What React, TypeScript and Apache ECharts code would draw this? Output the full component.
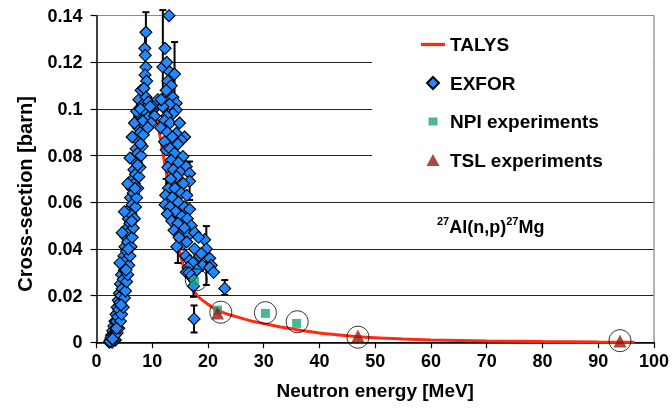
import React, { useEffect, useRef } from "react";
import * as echarts from "echarts";

const FONT = "'Liberation Sans', Arial, Helvetica, sans-serif";

// TALYS calculation [MeV, barn]
const talys: [number, number][] = [
  [10.8, 0.097], [11.0, 0.094], [12.0, 0.080], [13.0, 0.066], [14.0, 0.051],
  [15.2, 0.036], [16.0, 0.030], [17.0, 0.025], [17.6, 0.0215], [18.5, 0.019],
  [19.5, 0.0172], [20.5, 0.0155], [21.7, 0.0138], [23.0, 0.0125], [25.0, 0.011],
  [27.5, 0.0093], [30.0, 0.008], [33.0, 0.0066], [36.0, 0.0054], [40.0, 0.004],
  [45.0, 0.0028], [50.0, 0.0019], [55.0, 0.0014], [60.0, 0.001], [70.0, 0.0006],
  [80.0, 0.0003], [90.0, 0.0001], [96.5, 0.0],
];

// EXFOR data, rising edge
const exforRiseLeft: [number, number][] = [
  [2.3, 0.000], [2.5, 0.001], [2.7, 0.003], [2.9, 0.005], [3.1, 0.007], [3.3, 0.009],
  [3.5, 0.012], [3.7, 0.015], [3.9, 0.018], [4.1, 0.021], [4.3, 0.025], [4.5, 0.029],
  [4.7, 0.033], [4.9, 0.037], [5.1, 0.041], [5.3, 0.045], [5.5, 0.049], [5.7, 0.053],
  [5.9, 0.057], [6.1, 0.062], [6.3, 0.066], [6.5, 0.070], [6.7, 0.074], [6.9, 0.078],
  [7.1, 0.083], [7.3, 0.088], [7.5, 0.092], [7.7, 0.097],
];
const exforRiseMid: [number, number][] = [
  [2.8, 0.000], [3.0, 0.002], [3.2, 0.004], [3.4, 0.006], [3.6, 0.009], [3.8, 0.011],
  [4.0, 0.014], [4.2, 0.017], [4.4, 0.020], [4.6, 0.023], [4.8, 0.027], [5.0, 0.031],
  [5.2, 0.035], [5.4, 0.039], [5.6, 0.043], [5.8, 0.047], [6.0, 0.051], [6.2, 0.055],
  [6.4, 0.059], [6.6, 0.064], [6.8, 0.068], [7.0, 0.072], [7.2, 0.077], [7.4, 0.081],
  [7.6, 0.086], [7.9, 0.090], [8.1, 0.095], [8.3, 0.099],
];
const exforRiseRight: [number, number][] = [
  [3.4, 0.001], [3.7, 0.004], [4.0, 0.006], [4.3, 0.009], [4.5, 0.012], [4.8, 0.015],
  [5.0, 0.019], [5.2, 0.022], [5.4, 0.026], [5.6, 0.029], [5.8, 0.033], [6.0, 0.037],
  [6.2, 0.041], [6.4, 0.045], [6.6, 0.049], [6.8, 0.053], [7.0, 0.058], [7.2, 0.062],
  [7.4, 0.066], [7.6, 0.071], [7.8, 0.075], [8.0, 0.080], [8.2, 0.084], [8.4, 0.089],
  [8.7, 0.093],
];
const exforRiseExtra: [number, number][] = [
  [2.4, 0.0005], [2.6, 0.002], [3.0, 0.001], [3.3, 0.003], [2.9, 0.0015], [3.6, 0.006],
  [4.4, 0.016], [5.3, 0.031], [5.7, 0.040], [6.3, 0.052], [6.9, 0.066], [7.4, 0.076],
  [7.9, 0.085], [5.6, 0.068], [6.0, 0.079], [6.4, 0.088], [6.8, 0.094], [7.2, 0.099],
  [7.6, 0.104], [8.0, 0.108], [4.6, 0.047], [5.0, 0.056], [4.2, 0.034],
];
// EXFOR data, first maximum and the bridge between the maxima
const exforPeak1: [number, number][] = [
  [8.86, 0.1329], [8.66, 0.126], [8.75, 0.123], [8.86, 0.118], [8.7, 0.1146], [9.0, 0.112],
  [8.5, 0.1089], [8.9, 0.105], [8.2, 0.1017], [9.3, 0.103], [8.6, 0.100], [7.9, 0.100],
  [9.0, 0.098], [8.4, 0.095], [9.5, 0.097],
];
const exforBridge: [number, number][] = [
  [10.1, 0.0996], [10.75, 0.1024], [11.0, 0.104], [10.4, 0.097], [9.8, 0.094], [9.2, 0.092],
  [9.6, 0.101],
];
// EXFOR data, second maximum and its falling side
const exforPeak2: [number, number][] = [
  [13.0, 0.140], [11.9, 0.118], [13.1, 0.116], [14.0, 0.115], [12.8, 0.112], [13.4, 0.110],
  [12.5, 0.108], [13.7, 0.105], [14.3, 0.1025], [13.1, 0.102], [11.9, 0.101], [11.6, 0.104],
  [14.3, 0.0996], [13.7, 0.098], [12.6, 0.097], [12.2, 0.095], [13.2, 0.094], [14.9, 0.094],
  [14.3, 0.0896], [11.5, 0.092], [12.7, 0.090], [13.6, 0.088], [15.8, 0.088], [15.2, 0.0867],
  [12.2, 0.086], [14.6, 0.085], [12.5, 0.0824], [13.2, 0.083], [14.0, 0.081], [15.5, 0.0796],
  [13.4, 0.078], [14.7, 0.077], [12.8, 0.075], [16.1, 0.0753], [13.8, 0.074], [15.0, 0.073],
  [16.7, 0.0724], [14.4, 0.071], [13.3, 0.070], [16.7, 0.069], [15.6, 0.068], [12.9, 0.066],
  [14.1, 0.066], [15.2, 0.064], [12.4, 0.063], [13.6, 0.062], [16.2, 0.063], [14.7, 0.060],
  [12.3, 0.059], [13.2, 0.058], [15.8, 0.058], [16.7, 0.057], [14.2, 0.056], [12.7, 0.055],
  [15.3, 0.054], [13.5, 0.052], [16.3, 0.053], [14.6, 0.051], [17.0, 0.050], [15.8, 0.049],
  [13.9, 0.048], [14.9, 0.046], [16.6, 0.046], [17.6, 0.047], [15.5, 0.042], [16.2, 0.043],
  [19.4, 0.044], [18.3, 0.045], [19.7, 0.040], [17.6, 0.040], [18.5, 0.037], [18.8, 0.038],
  [14.4, 0.041], [14.8, 0.045], [16.0, 0.037], [16.7, 0.035], [19.0, 0.033], [20.3, 0.036],
  [20.6, 0.033], [20.3, 0.032], [21.0, 0.030], [17.3, 0.034], [18.0, 0.031], [16.4, 0.032],
  [16.1, 0.030], [17.0, 0.028], [16.6, 0.0298], [12.3, 0.126], [12.6, 0.120],
];
const exforTail: [number, number][] = [
  [17.5, 0.010], [23.0, 0.0231], [17.4, 0.024],
];
// EXFOR uncertainties [MeV, low, high]
const exforErrors: [number, number, number][] = [
  [8.86, 0.124, 0.1415], [8.7, 0.108, 0.132], [8.9, 0.098, 0.118], [11.9, 0.105, 0.1424],
  [14.0, 0.103, 0.1287], [12.5, 0.062, 0.070], [16.7, 0.061, 0.0775], [14.6, 0.034, 0.044],
  [19.7, 0.0246, 0.0498], [17.5, 0.0042, 0.0158], [23.0, 0.0203, 0.0267], [17.4, 0.0195, 0.028],
];
// NPI and TSL measurements
const npi: [number, number][] = [[17.6, 0.026], [21.7, 0.0138], [30.3, 0.0124], [35.9, 0.0081]];
const tsl: [number, number][] = [[21.7, 0.0126], [46.9, 0.0027], [93.9, 0.0006]];
// circles drawn around the new measurements
const circled: [number, number][] = [
  [17.9, 0.0268], [22.3, 0.0129], [30.3, 0.0127], [36.0, 0.0088], [46.9, 0.0022], [93.9, 0.0007],
];

const exforAll = [
  ...exforRiseLeft, ...exforRiseMid, ...exforRiseRight, ...exforRiseExtra,
  ...exforPeak1, ...exforBridge, ...exforPeak2, ...exforTail,
];

const bold = { fontFamily: FONT, fontWeight: "bold" as const, color: "#000", fontSize: 18 };

export default function App() {
  const ref = useRef<HTMLDivElement>(null);
  useEffect(() => {
    const chart = echarts.init(ref.current!, null, { renderer: "svg" });
    const option: any = {
      animation: false,
      textStyle: { fontFamily: FONT },
      grid: { left: 96.5, right: 15.5, top: 15.7, bottom: 66.7, containLabel: false },
      xAxis: {
        type: "value", min: 0, max: 100, interval: 10,
        name: "Neutron energy [MeV]", nameLocation: "middle", nameGap: 39,
        nameTextStyle: { ...bold, fontSize: 19 },
        axisLine: { show: true, onZero: false, lineStyle: { color: "#000", width: 1.5 } },
        axisTick: { show: true, length: 6, lineStyle: { color: "#000", width: 1.2 } },
        axisLabel: { ...bold, margin: 10 },
        splitLine: { show: false },
      },
      yAxis: [
        {
          type: "value", min: 0, max: 0.14, interval: 0.02,
          name: "Cross-section [barn]", nameLocation: "middle", nameGap: 62,
          nameTextStyle: { ...bold, fontSize: 20, padding: [0, 30, 0, 0] },
          axisLine: { show: true, onZero: false, lineStyle: { color: "#000", width: 1.5 } },
          axisTick: { show: true, length: 6, lineStyle: { color: "#000", width: 1.2 } },
          axisLabel: { ...bold, margin: 14 },
          splitLine: {
            show: true,
            lineStyle: { color: ["#222", "#222", "#222", "#222", "#222", "#222", "#222", "#8c8c8c"], width: 1.2 },
          },
        },
        {
          type: "value", min: 0, max: 0.14, interval: 0.02, position: "right",
          axisLine: { show: true, onZero: false, lineStyle: { color: "#9a9a9a", width: 1.5 } },
          axisTick: { show: false }, axisLabel: { show: false }, splitLine: { show: false },
        },
      ],
      legend: {
        orient: "vertical", left: 372, top: 22, padding: [12.5, 50, 15, 49],
        backgroundColor: "#fff", selectedMode: false,
        itemWidth: 24, itemHeight: 12, itemGap: 18.5,
        textStyle: { ...bold, fontSize: 19, lineHeight: 20 },
        data: [
          { name: "TALYS", icon: "path://M-11,-1.5L11,-1.5L11,1.5L-11,1.5Z" },
          { name: "EXFOR", icon: "path://M0,-6L6,0L0,6L-6,0Z" },
          { name: "NPI experiments", icon: "path://M-6,-6L-6,-6M6,6L6,6M-4.5,-4L4.5,-4L4.5,4L-4.5,4Z" },
          { name: "TSL experiments", icon: "path://M0,-6L6.5,6L-6.5,6Z" },
        ],
      },
      graphic: [
        {
          type: "text", left: 437, top: 215.5, z: 10,
          style: {
            text: "{s|27}{b|Al(n,p)}{s|27}{b|Mg}",
            fill: "#000",
            rich: {
              s: { fontFamily: FONT, fontWeight: "bold", fontSize: 11, lineHeight: 11, verticalAlign: "top", fill: "#000" },
              b: { fontFamily: FONT, fontWeight: "bold", fontSize: 18, lineHeight: 20, verticalAlign: "bottom", fill: "#000" },
            },
          },
        },
      ],
      series: [
        {
          name: "TALYS", type: "line", data: talys, symbol: "none", showSymbol: false,
          smooth: 0.2, z: 2,
          lineStyle: { color: "#ff2a10", width: 3 }, itemStyle: { color: "#ff2a10" },
        },
        {
          name: "EXFOR errors", type: "custom", z: 3, silent: true,
          data: exforErrors,
          encode: { x: 0, y: [1, 2] },
          renderItem: (params: any, api: any) => {
            const x = api.value(0);
            const lo = api.coord([x, api.value(1)]);
            const hi = api.coord([x, api.value(2)]);
            const w = 3.5;
            const st = { stroke: "#000", lineWidth: 2 };
            return {
              type: "group",
              children: [
                { type: "line", shape: { x1: lo[0], y1: lo[1], x2: hi[0], y2: hi[1] }, style: st },
                { type: "line", shape: { x1: lo[0] - w, y1: lo[1], x2: lo[0] + w, y2: lo[1] }, style: st },
                { type: "line", shape: { x1: hi[0] - w, y1: hi[1], x2: hi[0] + w, y2: hi[1] }, style: st },
              ],
            };
          },
        },
        {
          name: "EXFOR", type: "scatter", data: exforAll, symbol: "diamond", symbolSize: 12, z: 4,
          itemStyle: { color: "#2288ff", borderColor: "#000", borderWidth: 1.1, opacity: 1 },
        },
        {
          name: "NPI experiments", type: "scatter", data: npi, symbol: "rect", symbolSize: 9, z: 5,
          itemStyle: { color: "#1fa37b", borderWidth: 0 },
        },
        {
          name: "TSL experiments", type: "scatter", data: tsl, symbol: "triangle", symbolSize: [13, 13], z: 6,
          itemStyle: { color: "#9a1a0c", borderWidth: 0 },
        },
        {
          name: "circled", type: "scatter", data: circled, symbol: "circle", symbolSize: 22, z: 7, silent: true,
          itemStyle: { color: "rgba(0,0,0,0)", borderColor: "#000", borderWidth: 1 },
        },
      ],
    };
    chart.setOption(option);
    return () => chart.dispose();
  }, []);
  return <div ref={ref} style={{ position: "fixed", left: 0, top: 0, width: 672, height: 409 }} />;
}
